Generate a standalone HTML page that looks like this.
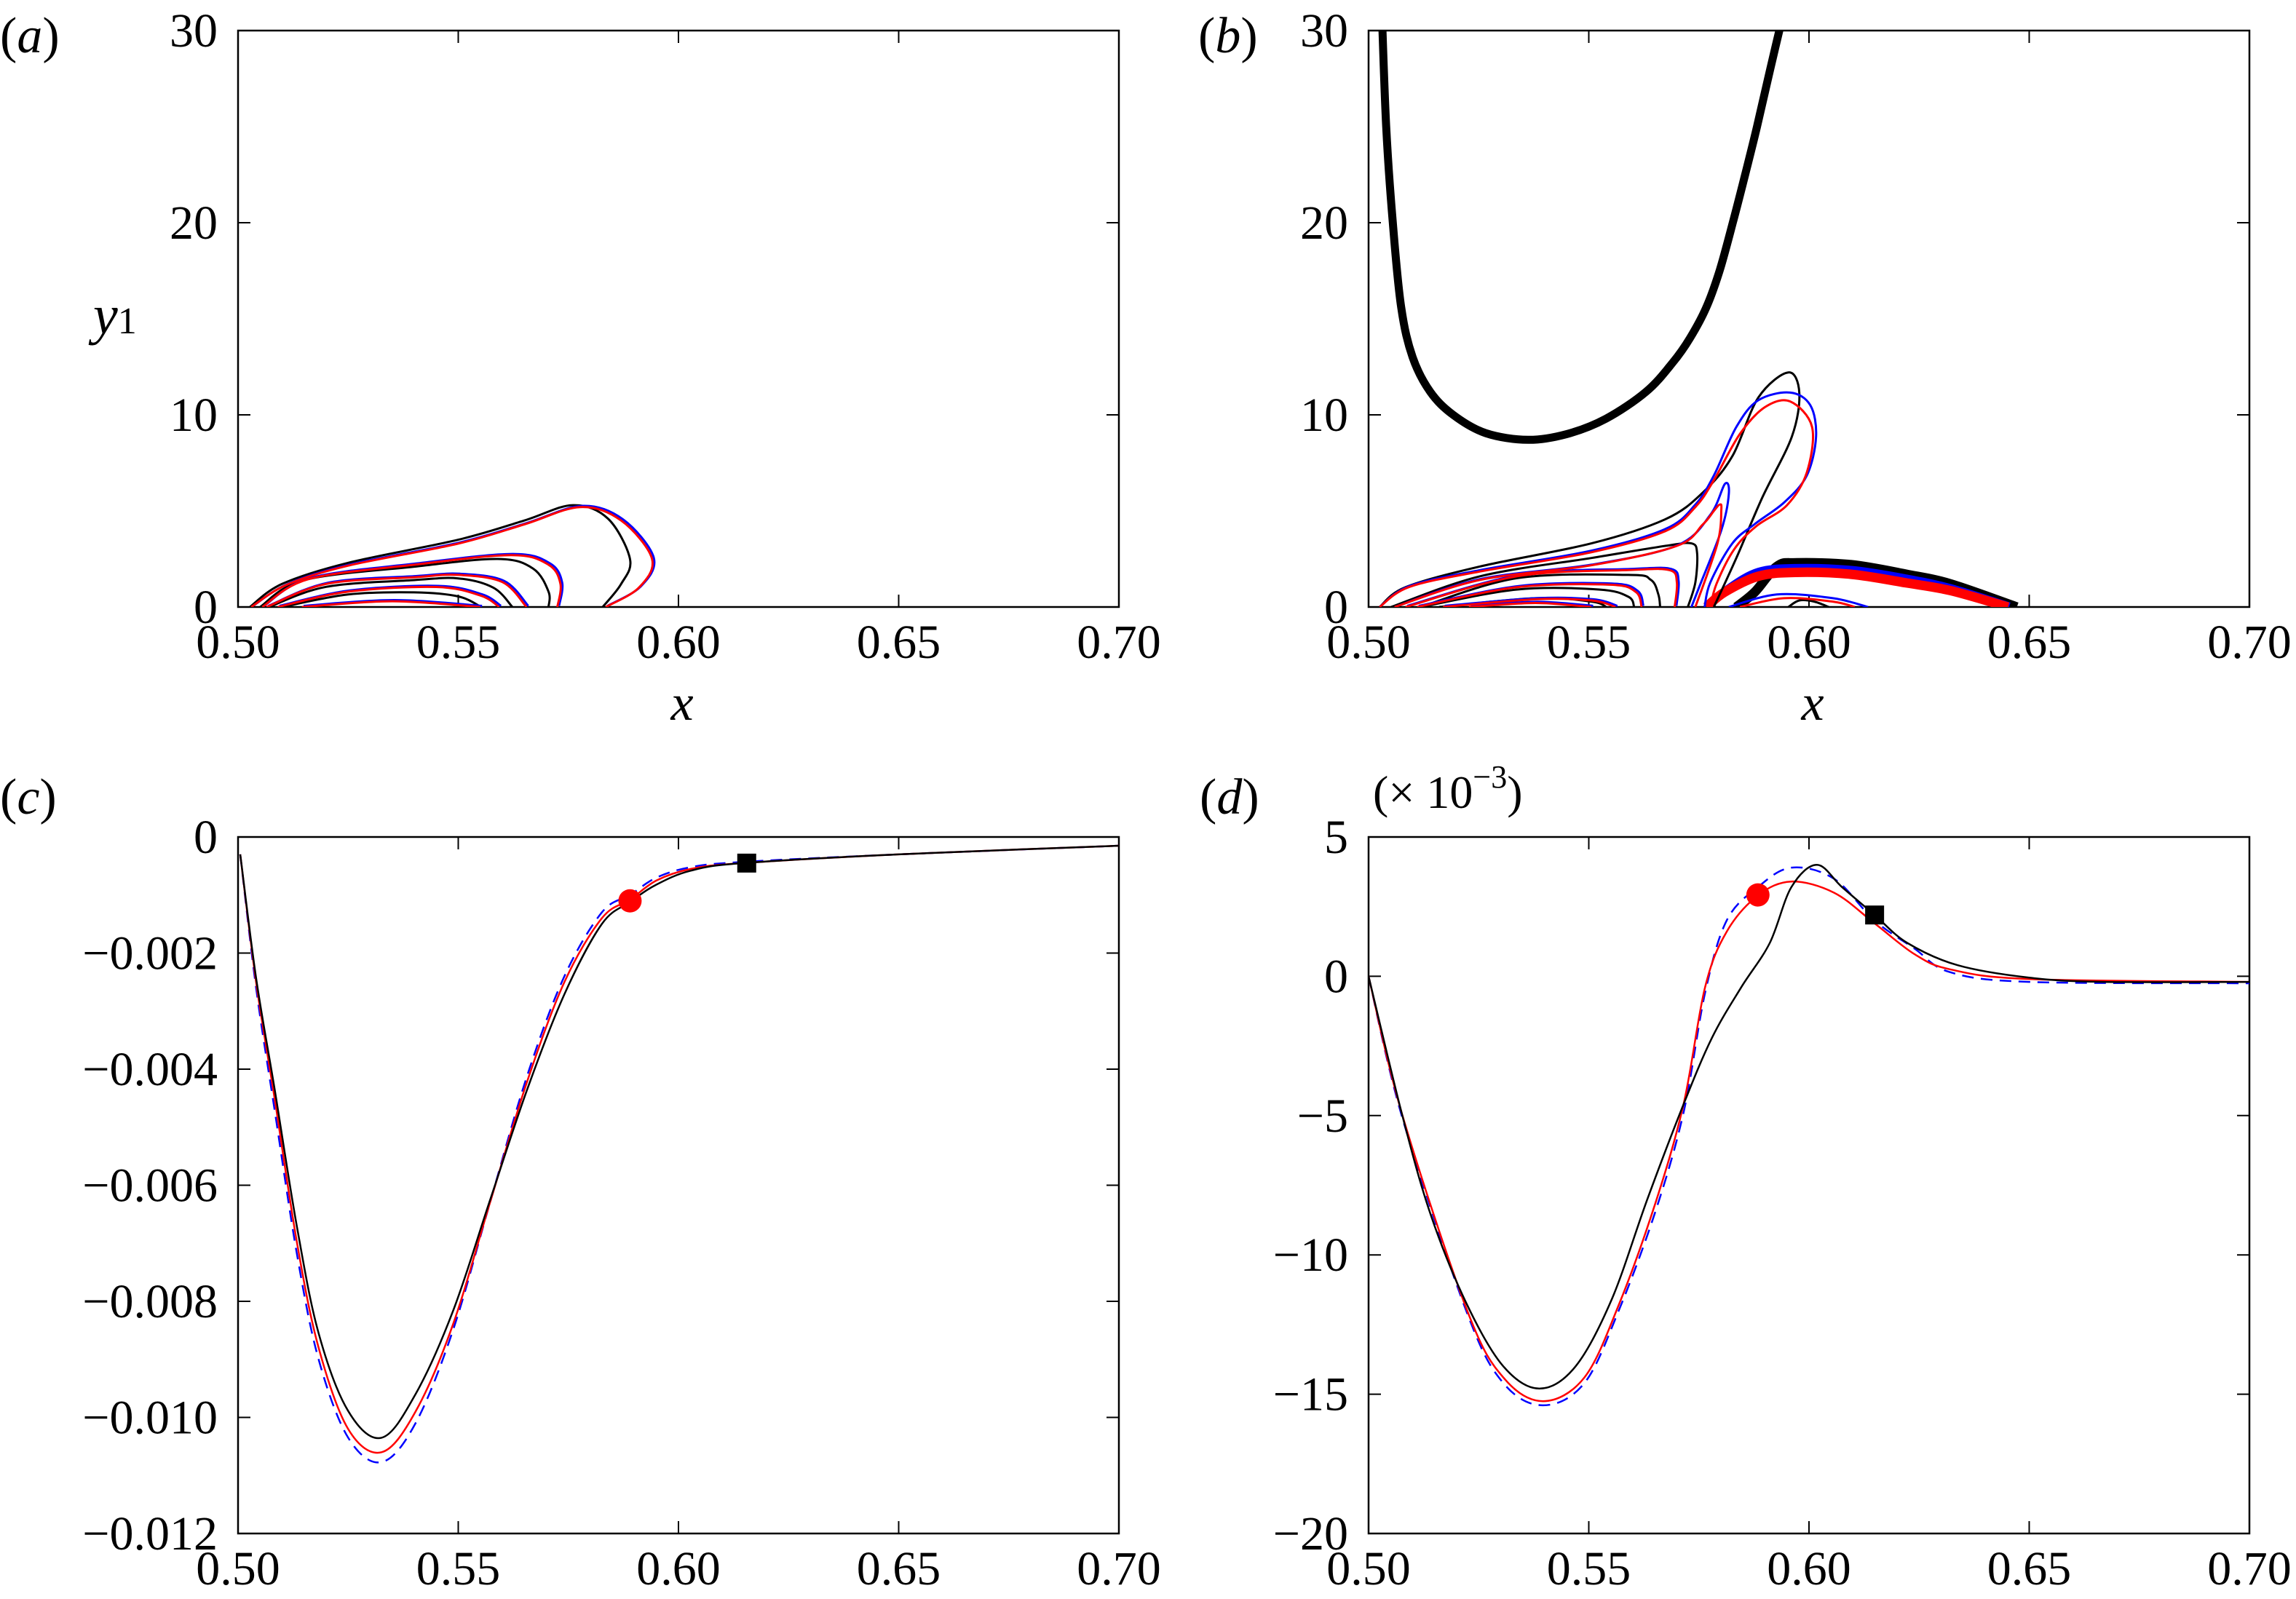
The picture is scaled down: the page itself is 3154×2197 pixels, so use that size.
<!DOCTYPE html>
<html><head><meta charset="utf-8">
<style>
html,body{margin:0;padding:0;background:#fff;}
svg{display:block;}
text{font-family:"Liberation Serif",serif;fill:#000;}
</style></head>
<body>
<svg id="fig" width="3154" height="2197" viewBox="0 0 3154 2197" xmlns="http://www.w3.org/2000/svg">
<defs>
<clipPath id="clipA"><rect x="327" y="42" width="1210" height="792"/></clipPath>
<clipPath id="clipB"><rect x="1880" y="42" width="1210" height="792"/></clipPath>
<clipPath id="clipC"><rect x="327" y="1150" width="1210" height="957"/></clipPath>
<clipPath id="clipD"><rect x="1880" y="1150" width="1210" height="957"/></clipPath>
</defs>
<g id="layer"></g>
</svg>
<script>
// ---------- data ----------
const xTicks = [0.50, 0.55, 0.60, 0.65, 0.70];
const xTickLabels = ["0.50", "0.55", "0.60", "0.65", "0.70"];
const yTicksAB = [0, 10, 20, 30];
const yTickLabelsAB = ["0", "10", "20", "30"];
const yTicksC = [0, -0.002, -0.004, -0.006, -0.008, -0.010, -0.012];
const yTickLabelsC = ["0", "\u22120.002", "\u22120.004", "\u22120.006", "\u22120.008", "\u22120.010", "\u22120.012"];
const yTicksD = [5, 0, -5, -10, -15, -20];
const yTickLabelsD = ["5", "0", "\u22125", "\u221210", "\u221215", "\u221220"];

// panel (a) contours [x, y1]
const aBlack1 = [[0.5027,0],[0.51,1.2],[0.525,2.3],[0.55,3.5],[0.565,4.5],[0.576,5.3],[0.584,4.6],[0.589,2.5],[0.587,1.2],[0.5828,0]];
const aRed1 = [[0.503,0],[0.511,1.15],[0.525,2.15],[0.55,3.3],[0.565,4.3],[0.5777,5.2],[0.587,4.5],[0.594,2.5],[0.591,1.0],[0.5835,0]];
const aBlack2 = [[0.505,0],[0.515,1.4],[0.54,2.1],[0.559,2.5],[0.567,2.0],[0.5705,0.8],[0.5705,0]];
const aRed2 = [[0.5055,0],[0.516,1.45],[0.54,2.2],[0.562,2.7],[0.5705,2.2],[0.5732,1.2],[0.5725,0]];
const aRed3 = [[0.5065,0],[0.52,1.2],[0.54,1.55],[0.55,1.67],[0.56,1.3],[0.5655,0]];
const aBlack3 = [[0.507,0],[0.52,1.05],[0.54,1.4],[0.55,1.49],[0.558,1.0],[0.5623,0]];
const aRed4 = [[0.509,0],[0.525,0.8],[0.545,1.04],[0.555,0.6],[0.5593,0]];
const aBlack4 = [[0.510,0],[0.525,0.65],[0.54,0.76],[0.55,0.55],[0.5552,0]];
const aRed5 = [[0.5145,0],[0.535,0.3],[0.555,0]];

// panel (b) contours
const bThickU = [[0.5030,31],[0.5040,25],[0.5055,20],[0.5074,15.6],[0.5100,13.0],[0.5140,11.2],[0.5192,10],[0.5266,9.05],[0.5362,8.7],[0.5450,9.0],[0.5539,9.8],[0.5630,11.2],[0.5690,12.7],[0.5730,14.0],[0.5767,15.6],[0.5797,17.5],[0.5827,20],[0.5855,22.5],[0.5882,25],[0.5912,28],[0.5943,31]];
const bBlack1 = [[0.5025,0],[0.5084,1.03],[0.5253,2.11],[0.5506,3.31],[0.5674,4.57],[0.5759,5.96],[0.5826,7.85],[0.5885,10.9],[0.5953,12.21],[0.5978,11.14],[0.5961,8.86],[0.5894,5.7],[0.5835,2.55],[0.5784,0]];
const bBlue1 = [[0.5025,0],[0.5093,1.09],[0.5253,1.92],[0.5506,2.93],[0.5674,4.06],[0.5742,5.33],[0.5784,6.84],[0.5835,9.37],[0.5885,10.76],[0.5957,11.16],[0.6003,10.5],[0.6016,8.86],[0.5995,6.84],[0.5944,5.45],[0.5877,4.32],[0.5826,3.31],[0.5776,1.28],[0.5763,0]];
const bRed1 = [[0.5025,0],[0.5093,1.05],[0.5253,1.85],[0.5506,2.85],[0.5674,3.95],[0.5742,5.2],[0.5784,6.6],[0.5843,9.0],[0.5900,10.4],[0.5957,10.7],[0.6007,9.37],[0.5995,7.0],[0.595,5.3],[0.588,4.2],[0.583,3.0],[0.579,1.2],[0.5776,0]];
const bBlack2 = [[0.5051,0],[0.5253,1.6],[0.5506,2.55],[0.5674,3.18],[0.5733,3.31],[0.5746,2.8],[0.5742,1.28],[0.5725,0]];
const bRed2 = [[0.5059,0],[0.5253,1.41],[0.5506,2.17],[0.570,3.18],[0.5759,4.3],[0.5784,5.0],[0.5797,5.33],[0.5801,5.07],[0.5792,3.3],[0.5742,0]];
const bBlue2 = [[0.5059,0],[0.5253,1.45],[0.5506,2.2],[0.570,3.2],[0.5776,4.8],[0.5809,6.4],[0.5818,5.9],[0.5801,4.0],[0.5750,1.0],[0.5733,0]];
const bRed3 = [[0.5084,0],[0.5337,1.6],[0.559,1.92],[0.5683,1.92],[0.570,1.28],[0.5695,0]];
const bBlack3 = [[0.5118,0],[0.5337,1.5],[0.559,1.67],[0.5641,1.41],[0.5658,0.65],[0.5662,0]];
const bRed4 = [[0.511,0],[0.5337,1.03],[0.5548,1.16],[0.5607,0.78],[0.562,0]];
const bBlack4 = [[0.5118,0],[0.5337,0.91],[0.5523,0.91],[0.559,0.53],[0.5603,0]];
const bRed5 = [[0.5169,0],[0.5379,0.4],[0.5506,0.34],[0.5561,0]];
const bBlack5 = [[0.516,0],[0.5379,0.46],[0.5506,0.28],[0.554,0]];
const bRed6 = [[0.5228,0],[0.5379,0.21],[0.5506,0]];
const bBandBlack = [[0.5835,0],[0.5877,0.78],[0.5927,2.11],[0.5972,2.3],[0.6096,2.2],[0.6222,1.7],[0.6322,1.2],[0.6472,0]];
const bBandBlue = [[0.5780,0.2],[0.5818,1.0],[0.5885,1.85],[0.5969,2.05],[0.6096,1.95],[0.6222,1.5],[0.6322,1.0],[0.6455,0.05]];
const bBandRed = [[0.5767,0],[0.5809,0.78],[0.5885,1.6],[0.5969,1.8],[0.6096,1.7],[0.6222,1.25],[0.6322,0.85],[0.6452,0]];
const bSmallBlue = [[0.5818,0],[0.5927,0.65],[0.6054,0.46],[0.6134,0]];
const bSmallRed = [[0.5843,0],[0.5944,0.46],[0.6054,0.28],[0.6104,0]];
const bSmallBlack = [[0.5953,0],[0.5978,0.34],[0.6012,0.28],[0.6045,0]];

// panel (c)
const cX = [0.5005,0.5041,0.5083,0.5134,0.5183,0.5250,0.5326,0.5403,0.5488,0.5572,0.5657,0.5741,0.5826,0.5890,0.5950,0.6028,0.6146,0.65,0.70];
const cBlack = [-0.0003,-0.00243,-0.00434,-0.00673,-0.00855,-0.00989,-0.01035,-0.0096,-0.00817,-0.00626,-0.00434,-0.00271,-0.00150,-0.00112,-0.00082,-0.00058,-0.00045,-0.0003,-0.00015];
const cRed = [-0.0003,-0.0025,-0.0045,-0.0070,-0.0088,-0.0102,-0.0106,-0.0099,-0.0084,-0.0063,-0.0042,-0.0025,-0.00140,-0.00108,-0.00075,-0.00055,-0.00045,-0.0003,-0.00015];
const cBlue = [-0.0003,-0.0026,-0.0047,-0.0072,-0.0090,-0.01035,-0.01077,-0.0101,-0.0085,-0.0063,-0.0041,-0.0024,-0.00130,-0.00100,-0.00070,-0.00052,-0.00043,-0.0003,-0.00015];
const cCircle = [0.589, -0.0011];
const cSquare = [0.6155, -0.00045];

// panel (d) (x 10^-3)
const dXBlack = [0.5,0.5077,0.5142,0.5224,0.5306,0.5388,0.547,0.5552,0.5633,0.5715,0.578,0.5846,0.5911,0.596,0.6018,0.6075,0.6149,0.6223,0.6337,0.65,0.6666,0.70];
const dBlack = [0,-5.02,-8.6,-11.8,-14.0,-14.8,-14.0,-11.6,-8.0,-4.6,-2.2,-0.4,1.2,3.2,4.0,3.2,2.2,1.2,0.4,-0.05,-0.2,-0.2];
const dXRed = [0.5,0.5077,0.5224,0.5306,0.5396,0.549,0.5568,0.565,0.5715,0.5764,0.5813,0.5884,0.596,0.6057,0.6149,0.6239,0.632,0.65,0.70];
const dRed = [0,-5.0,-12.0,-14.4,-15.25,-14.4,-11.8,-8.2,-4.6,-0.4,1.6,2.9,3.4,3.0,1.9,0.8,0.25,-0.1,-0.2];
const dBlue = [0,-5.1,-12.1,-14.6,-15.4,-14.6,-12.0,-8.5,-4.9,-0.6,2.0,3.2,3.9,3.5,2.0,1.0,0.15,-0.2,-0.25];
const dCircle = [0.5884, 2.92];
const dSquare = [0.6149, 2.2];

// ---------- drawing ----------
const NS = "http://www.w3.org/2000/svg";
const root = document.getElementById("layer");
function el(tag, attrs, parent) {
  const e = document.createElementNS(NS, tag);
  for (const k in attrs) e.setAttribute(k, attrs[k]);
  (parent || root).appendChild(e);
  return e;
}
function makeAxes(L, R, T, B, x0, x1, y0, y1) {
  return {
    sx: v => L + (v - x0) / (x1 - x0) * (R - L),
    sy: v => B - (v - y0) / (y1 - y0) * (B - T),
    L, R, T, B
  };
}
function smoothPath(pts) {
  let d = "M" + pts[0][0].toFixed(1) + "," + pts[0][1].toFixed(1);
  for (let i = 0; i < pts.length - 1; i++) {
    const p0 = pts[Math.max(i - 1, 0)], p1 = pts[i], p2 = pts[i + 1], p3 = pts[Math.min(i + 2, pts.length - 1)];
    const c1x = p1[0] + (p2[0] - p0[0]) / 6, c1y = p1[1] + (p2[1] - p0[1]) / 6;
    const c2x = p2[0] - (p3[0] - p1[0]) / 6, c2y = p2[1] - (p3[1] - p1[1]) / 6;
    d += "C" + c1x.toFixed(1) + "," + c1y.toFixed(1) + " " + c2x.toFixed(1) + "," + c2y.toFixed(1) + " " + p2[0].toFixed(1) + "," + p2[1].toFixed(1);
  }
  return d;
}
function frame(ax, name, yTicks, yLabels, showXlabel) {
  const g = el("g", {});
  
  
  el("rect", {x: ax.L, y: ax.T, width: ax.R - ax.L, height: ax.B - ax.T, fill: "none", stroke: "#000", "stroke-width": 2.5}, g);
  xTicks.forEach((t, i) => {
    const x = ax.sx(t);
    el("line", {x1: x, y1: ax.B, x2: x, y2: ax.B - 17, stroke: "#000", "stroke-width": 2}, g);
    el("line", {x1: x, y1: ax.T, x2: x, y2: ax.T + 17, stroke: "#000", "stroke-width": 2}, g);
    const tx = el("text", {x: x, y: ax.B + 70, "font-size": 66, "text-anchor": "middle"}, g);
    
    
    tx.textContent = xTickLabels[i];
  });
  yTicks.forEach((t, i) => {
    const y = ax.sy(t);
    el("line", {x1: ax.L, y1: y, x2: ax.L + 17, y2: y, stroke: "#000", "stroke-width": 2}, g);
    el("line", {x1: ax.R, y1: y, x2: ax.R - 17, y2: y, stroke: "#000", "stroke-width": 2}, g);
    const ty = el("text", {x: ax.L - 28, y: y + 22, "font-size": 66, "text-anchor": "end"}, g);
    
    
    ty.textContent = yLabels[i];
  });
  if (showXlabel) {
    const xl = el("text", {x: (ax.L + ax.R) / 2 + 5, y: ax.B + 155, "font-size": 70, "font-style": "italic", "text-anchor": "middle"}, g);
    
    
    xl.textContent = "x";
  }
}
function contour(ax, pts, color, w, clip, name) {
  const p = el("path", {d: smoothPath(pts.map(q => [ax.sx(q[0]), ax.sy(q[1])])), fill: "none", stroke: color, "stroke-width": w, "clip-path": "url(#" + clip + ")", "stroke-linejoin": "round"});
  
  
}
function series(ax, xs, ys, color, w, clip, name, dash) {
  const attrs = {d: smoothPath(xs.map((x, i) => [ax.sx(x), ax.sy(ys[i])])), fill: "none", stroke: color, "stroke-width": w, "clip-path": "url(#" + clip + ")"};
  if (dash) attrs["stroke-dasharray"] = dash;
  const p = el("path", attrs);
  
  
}
function label(x, y, txt, name, size) {
  const t = el("text", {x: x, y: y, "font-size": size || 70});
  
  
  t.innerHTML = txt;
}

// Panel a
const A = makeAxes(327, 1537, 42, 834, 0.5, 0.7, 0, 30);
frame(A, "panel-a", yTicksAB, yTickLabelsAB, true);
[aBlack1,aBlack2,aBlack3,aBlack4].forEach(c=>contour(A,c,"#000",3,"clipA","a-black-contour"));
[aRed1,aRed2,aRed3,aRed4,aRed5].forEach(c=>contour(A,c.map(q=>[q[0]+0.0004,q[1]+0.06]),"#0000ff",3,"clipA","a-blue-contour"));
[aRed1,aRed2,aRed3,aRed4,aRed5].forEach(c=>contour(A,c,"#ff0000",3,"clipA","a-red-contour"));

// Panel b
const B = makeAxes(1880, 3090, 42, 834, 0.5, 0.7, 0, 30);
frame(B, "panel-b", yTicksAB, yTickLabelsAB, true);
contour(B, bThickU, "#000", 11, "clipB", "b-thick-black-contour");
contour(B, bBandBlack, "#000", 13, "clipB", "b-thick-black-band");
contour(B, bBandBlue, "#0000ff", 10, "clipB", "b-thick-blue-band");
contour(B, bBandRed, "#ff0000", 13, "clipB", "b-thick-red-band");
[bBlack1,bBlack2,bBlack3,bBlack4,bBlack5,bSmallBlack].forEach(c=>contour(B,c,"#000",3,"clipB","b-black-contour"));
[bBlue1,bBlue2,bSmallBlue].forEach(c=>contour(B,c,"#0000ff",3,"clipB","b-blue-contour"));
[bRed3,bRed4,bRed5,bRed6].forEach(c=>contour(B,c.map(q=>[q[0]+0.0004,q[1]+0.06]),"#0000ff",3,"clipB","b-blue-contour"));
[bRed1,bRed2,bRed3,bRed4,bRed5,bRed6,bSmallRed].forEach(c=>contour(B,c,"#ff0000",3,"clipB","b-red-contour"));

// Panel c
const C = makeAxes(327, 1537, 1150, 2107, 0.5, 0.7, -0.012, 0);
frame(C, "panel-c", yTicksC, yTickLabelsC, false);
series(C, cX, cBlue, "#0000ff", 2.5, "clipC", "c-blue-dashed-line", "16,10");
series(C, cX, cRed, "#ff0000", 2.5, "clipC", "c-red-line");
series(C, cX, cBlack, "#000", 2.5, "clipC", "c-black-line");
const cCircleEl = el("circle",{cx:C.sx(cCircle[0]),cy:C.sy(cCircle[1]),r:16,fill:"#ff0000"});


const cSquareEl = el("rect",{x:C.sx(cSquare[0])-13,y:C.sy(cSquare[1])-13,width:26,height:26,fill:"#000"});



// Panel d
const D = makeAxes(1880, 3090, 1150, 2107, 0.5, 0.7, -20, 5);
frame(D, "panel-d", yTicksD, yTickLabelsD, false);
series(D, dXRed, dBlue, "#0000ff", 2.5, "clipD", "d-blue-dashed-line", "16,10");
series(D, dXRed, dRed, "#ff0000", 2.5, "clipD", "d-red-line");
series(D, dXBlack, dBlack, "#000", 2.5, "clipD", "d-black-line");
const dCircleEl = el("circle",{cx:D.sx(dCircle[0]),cy:D.sy(dCircle[1]),r:16,fill:"#ff0000"});


const dSquareEl = el("rect",{x:D.sx(dSquare[0])-13,y:D.sy(dSquare[1])-13,width:26,height:26,fill:"#000"});



// panel labels
label(0, 72, "(<tspan font-style='italic'>a</tspan>)", "panel-a-label", 70);
label(1646, 72, "(<tspan font-style='italic'>b</tspan>)", "panel-b-label", 70);
label(0, 1118, "(<tspan font-style='italic'>c</tspan>)", "panel-c-label", 70);
label(1648, 1118, "(<tspan font-style='italic'>d</tspan>)", "panel-d-label", 70);
label(128, 458, "<tspan font-style='italic' font-size='76'>y</tspan><tspan font-size='52'>1</tspan>", "y-axis-title", 72);
label(1886, 1110, "(× 10<tspan font-size='44' dy='-28'>−3</tspan><tspan dy='28'>)</tspan>", "panel-d-scale-label", 64);
</script>
</body></html>
